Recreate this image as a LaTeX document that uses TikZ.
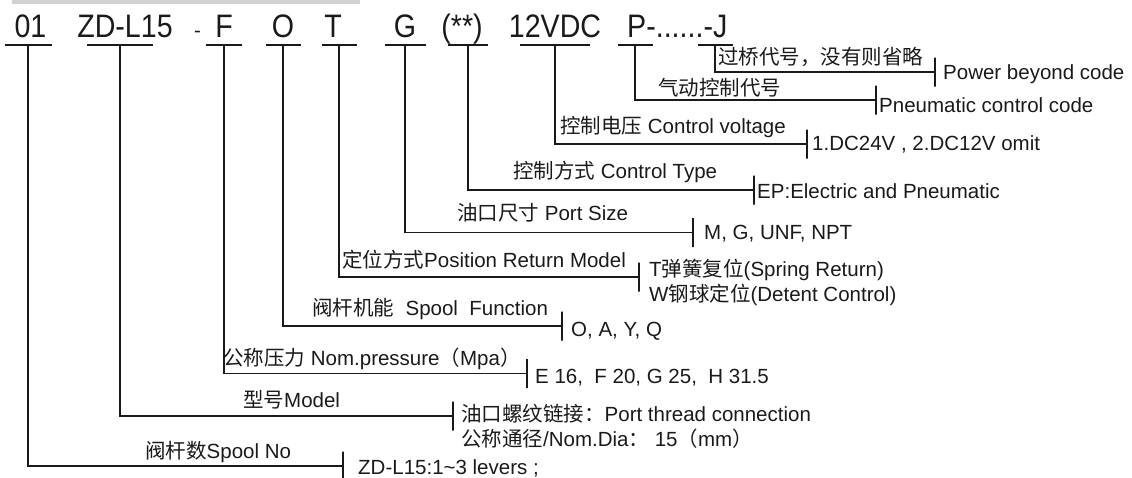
\documentclass[tikz,border=0pt]{standalone}
\usepackage{fontspec}
\setmainfont{Liberation Sans}
\newfontfamily\cjk{Noto Sans CJK SC}
\newfontfamily\codefont[FakeStretch=0.88]{Liberation Sans}
\newcommand\zh[1]{{\cjk #1}}
\definecolor{ink}{HTML}{1A1A1A}
\tikzset {
    code text/.style = {font = \codefont\fontsize{32.5}{34}\selectfont, anchor = base, inner sep = 0pt, text = ink},
    code slot/.style = {minimum width = #1, minimum height = 0pt, inner sep = 0pt, outer sep = 0pt},
    end tick/.style = {draw = ink, line width = 1.8pt, minimum width = 0pt, minimum height = 29pt, inner sep = 0pt, outer sep = 0pt},
    lead line/.style = {draw = ink, line width = 1.8pt},
    desc text/.style = {font = \fontsize{20.5}{25}\selectfont, anchor = base west, inner sep = 0pt, text = ink},
    value text/.style = {desc text, align = left},
}

\begin{document}
\begin{tikzpicture}[x = 1pt, y = -1pt]
    \useasboundingbox (0, 0) rectangle (1132, 477);
    \fill [gray!35] (12, 0) rectangle (360, 4);
    % code letters
    \node (t01) [code text] at (30.5, 37) {01};
    \node (tzd) [code text] at (125, 37) {ZD-L15};
    \node (dash) [desc text] at (194, 37) {-};
    \node (tf) [code text] at (224, 37) {F};
    \node (to) [code text] at (283, 37) {O};
    \node (tt) [code text] at (333, 37) {T};
    \node (tg) [code text] at (405, 37) {G};
    \node (tct) [code text] at (462, 37) {(**)};
    \node (tv) [code text] at (555, 37) {12VDC};
    \node (tpj) [code text, anchor = base west] at (627, 37) {P-......-J};
    % underlines
    \node (s01) [code slot = 47pt] at (28, 45) {};
    \node (szd) [code slot = 66pt] at (120, 45) {};
    \node (sf) [code slot = 36pt] at (224, 45) {};
    \node (so) [code slot = 35pt] at (283, 45) {};
    \node (st) [code slot = 35pt] at (339, 45) {};
    \node (sg) [code slot = 41pt] at (405, 45) {};
    \node (sct) [code slot = 40pt] at (468, 45) {};
    \node (sv) [code slot = 70pt] at (555, 45) {};
    \node (sp) [code slot = 35pt] at (635, 45) {};
    \node (sj) [code slot = 35pt] at (715, 45) {};
    \foreach \s in {s01, szd, sf, so, st, sg, sct, sv, sp, sj}
        \draw [lead line] (\s.west) -- (\s.east);
    % end ticks
    \node (kj) [end tick] at (935, 72) {};
    \node (kp) [end tick] at (876, 100) {};
    \node (kv) [end tick] at (807, 144) {};
    \node (kct) [end tick] at (754, 190) {};
    \node (kg) [end tick] at (693, 232.5) {};
    \node (kt) [end tick] at (639, 277) {};
    \node (ko) [end tick] at (562, 326) {};
    \node (kf) [end tick] at (527, 373.5) {};
    \node (kzd) [end tick] at (453, 416) {};
    \node (k01) [end tick] at (343, 466) {};
    \foreach \a/\b in {sj/kj, sp/kp, sv/kv, sct/kct, sg/kg, st/kt, so/ko, sf/kf, szd/kzd, s01/k01}
        \draw [lead line] (\a) |- (\b);
    % descriptions
    \node (dj) [desc text] at (718, 64) {\zh{过桥代号，没有则省略}};
    \node (dp) [desc text] at (658, 95) {\zh{气动控制代号}};
    \node (dv) [desc text] at (560, 133) {\zh{控制电压} Control voltage};
    \node (dct) [desc text] at (513, 178) {\zh{控制方式} Control Type};
    \node (dg) [desc text] at (457, 220) {\zh{油口尺寸} Port Size};
    \node (dt) [desc text] at (342, 267) {\zh{定位方式}Position Return Model};
    \node (do) [desc text] at (312, 315) {\zh{阀杆机能}\ \ Spool\ \ Function};
    \node (df) [desc text] at (223, 365) {\zh{公称压力} Nom.pressure\zh{（}Mpa\zh{）}};
    \node (dzd) [desc text] at (243, 407) {\zh{型号}Model};
    \node (d01) [desc text] at (145, 458) {\zh{阀杆数}Spool No};
    % values (two-line nodes sit on their last line)
    \node (vj) [value text] at (943, 79) {Power beyond code};
    \node (vp) [value text] at (879, 112) {Pneumatic control code};
    \node (vv) [value text] at (812, 150) {1.DC24V , 2.DC12V omit};
    \node (vct) [value text] at (757, 198) {EP:Electric and Pneumatic};
    \node (vg) [value text] at (704, 239) {M, G, UNF, NPT};
    \node (vt) [value text] at (649, 301) {T\zh{弹簧复位}(Spring Return)\\W\zh{钢球定位}(Detent Control)};
    \node (vo) [value text] at (571, 336) {O, A, Y, Q};
    \node (vf) [value text] at (535, 383) {E 16,\ \ F 20, G 25,\ \ H 31.5};
    \node (vzd) [value text] at (461, 446) {\zh{油口螺纹链接：}Port thread connection\\\zh{公称通径}/Nom.Dia\zh{：} 15\zh{（}mm\zh{）}};
    \node (v01) [value text] at (358, 474) {ZD-L15:1\textasciitilde3 levers ;};
\end{tikzpicture}
\end{document}
